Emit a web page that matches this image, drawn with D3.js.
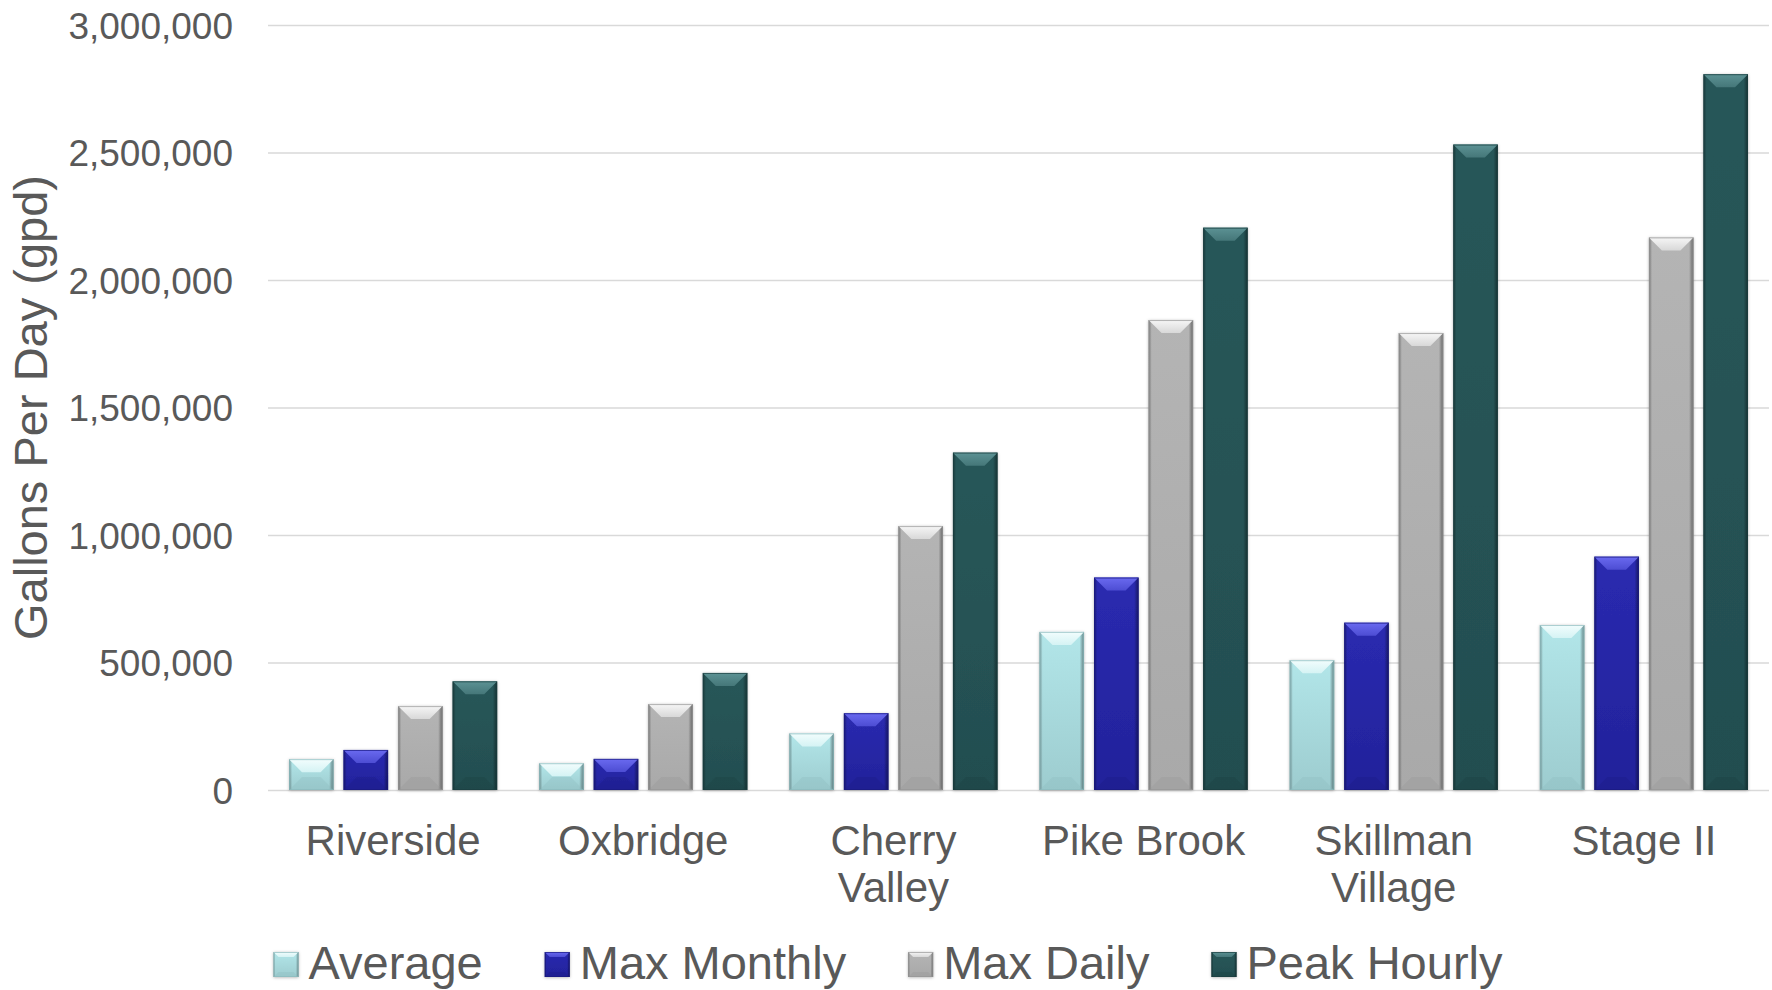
<!DOCTYPE html>
<html>
<head>
<meta charset="utf-8">
<script src="https://cdn.jsdelivr.net/npm/d3@7"></script>
<style>
  html, body { margin: 0; padding: 0; background: #ffffff; }
  svg { display: block; font-family: "Liberation Sans", Arial, sans-serif; }
</style>
</head>
<body>
<svg id="chart" width="1772" height="990"></svg>
<script>
// Water demand per service area, gallons per day
const categories = ["Riverside", "Oxbridge", "Cherry Valley", "Pike Brook", "Skillman Village", "Stage II"];
const seriesNames = ["Average", "Max Monthly", "Max Daily", "Peak Hourly"];
const averageValues    = [121000, 105000, 222000, 620000, 509000, 647000];
const maxMonthlyValues = [157000, 122000, 301000, 833000, 656000, 915000];
const maxDailyValues   = [329000, 337000, 1035000, 1843000, 1792000, 2167000];
const peakHourlyValues = [426000, 459000, 1323000, 2205000, 2531000, 2807000];
const yTickValues = [0, 500000, 1000000, 1500000, 2000000, 2500000, 3000000];
const yAxisTitle = "Gallons Per Day (gpd)";

const seriesValues = [averageValues, maxMonthlyValues, maxDailyValues, peakHourlyValues];

// Bevelled fill palette per series: face top/bottom, bevel highlight, bevel shade
const palette = [
  { top: "#b2e6e9", bottom: "#9dcccf", hi: "#f2fdfd", lo: "#8cbabd" },
  { top: "#2a2ab0", bottom: "#22229a", hi: "#6a6af0", lo: "#1a1a80" },
  { top: "#b4b4b4", bottom: "#a9a9a9", hi: "#f6f6f6", lo: "#959595" },
  { top: "#285759", bottom: "#234e50", hi: "#5c9294", lo: "#1b3e40" }
];

const W = 1772, H = 990;
const plot = { left: 268, right: 1769, top: 25, bottom: 790 };
const textColor = "#595959";

const svg = d3.select("#chart");
const defs = svg.append("defs");

const shadow = defs.append("filter").attr("id", "barShadow")
  .attr("x", "-20%").attr("y", "-20%").attr("width", "140%").attr("height", "140%");
shadow.append("feDropShadow").attr("dx", 0).attr("dy", 0.6)
  .attr("stdDeviation", 1.6).attr("flood-color", "#000").attr("flood-opacity", 0.3);

palette.forEach((p, i) => {
  const face = defs.append("linearGradient").attr("id", "face" + i)
    .attr("x1", 0).attr("y1", 0).attr("x2", 0).attr("y2", 1);
  face.append("stop").attr("offset", "0%").attr("stop-color", p.top);
  face.append("stop").attr("offset", "100%").attr("stop-color", p.bottom);

  const hi = defs.append("linearGradient").attr("id", "hi" + i)
    .attr("x1", 0).attr("y1", 0).attr("x2", 0).attr("y2", 1);
  hi.append("stop").attr("offset", "0%").attr("stop-color", p.hi);
  hi.append("stop").attr("offset", "100%").attr("stop-color", d3.interpolateRgb(p.hi, p.top)(0.45));
});

// Darkened side edges of each bar
const edge = defs.append("linearGradient").attr("id", "edge")
  .attr("x1", 0).attr("y1", 0).attr("x2", 1).attr("y2", 0);
[[0, 0.35], [0.07, 0.0], [0.9, 0.0], [1, 0.45]].forEach(([o, a]) => {
  edge.append("stop").attr("offset", o * 100 + "%").attr("stop-color", "#000").attr("stop-opacity", a);
});

const y = d3.scaleLinear().domain([0, 3000000]).range([plot.bottom, plot.top]);
const x = d3.scaleBand().domain(categories).range([plot.left, plot.right]).padding(0);
const xs = d3.scaleBand().domain(seriesNames).range([0, x.bandwidth()])
  .paddingInner(0.183).paddingOuter(0.385);

// Gridlines and value labels
const yAxis = svg.append("g").attr("transform", `translate(${plot.left},0)`)
  .call(d3.axisLeft(y).tickValues(yTickValues).tickFormat(d3.format(","))
    .tickSize(-(plot.right - plot.left)).tickPadding(35));
yAxis.select(".domain").remove();
yAxis.selectAll(".tick line").attr("stroke", "#d9d9d9").attr("stroke-width", 1.6);
yAxis.selectAll(".tick text").attr("fill", textColor).attr("font-size", 37)
  .attr("font-family", "Liberation Sans, Arial, sans-serif").attr("dy", "0.36em");

// Y axis title
svg.append("text")
  .attr("transform", `translate(47,${(plot.top + plot.bottom) / 2}) rotate(-90)`)
  .attr("text-anchor", "middle").attr("fill", textColor).attr("font-size", 47)
  .text(yAxisTitle);

// Bevelled bar drawing
function bevelBar(g, bx, by, bw, bh, si, bevel) {
  const b = Math.min(bevel, bw / 2, bh / 2);
  const grp = g.append("g");
  grp.append("rect").attr("x", bx).attr("y", by).attr("width", bw).attr("height", bh)
    .attr("fill", `url(#face${si})`).attr("filter", "url(#barShadow)");
  grp.append("rect").attr("x", bx).attr("y", by).attr("width", bw).attr("height", bh)
    .attr("fill", "url(#edge)");
  grp.append("polygon")
    .attr("points", [[bx, by], [bx + bw, by], [bx + bw - b, by + b], [bx + b, by + b]].join(" "))
    .attr("fill", `url(#hi${si})`);
  grp.append("polygon")
    .attr("points", [[bx, by + bh], [bx + bw, by + bh], [bx + bw - b, by + bh - b], [bx + b, by + bh - b]].join(" "))
    .attr("fill", palette[si].lo).attr("opacity", 0.3);
  grp.append("rect").attr("x", bx + 0.5).attr("y", by + 0.5).attr("width", bw - 1).attr("height", bh - 1)
    .attr("fill", "none").attr("stroke", palette[si].lo).attr("stroke-width", 1).attr("stroke-opacity", 0.7);
}

const barsG = svg.append("g");
seriesNames.forEach((name, si) => {
  seriesValues[si].forEach((v, ci) => {
    const bx = x(categories[ci]) + xs(name);
    const by = y(v);
    bevelBar(barsG, bx, by, xs.bandwidth(), y(0) - by, si, 13);
  });
});

// Category labels, wrapped to the band width
const xAxis = svg.append("g").attr("transform", `translate(0,${plot.bottom})`)
  .call(d3.axisBottom(x).tickSize(0).tickPadding(0));
xAxis.select(".domain").remove();
xAxis.selectAll(".tick text").each(function (d) {
  const t = d3.select(this);
  t.text(null).attr("fill", textColor).attr("font-size", 42)
    .attr("font-family", "Liberation Sans, Arial, sans-serif").attr("y", 65).attr("dy", 0);
  const words = d.split(" ");
  const lines = [];
  let line = [];
  const probe = t.append("tspan");
  words.forEach(w => {
    const trial = line.concat(w).join(" ");
    probe.text(trial);
    if (line.length && probe.node().getComputedTextLength() > x.bandwidth() * 0.94) {
      lines.push(line.join(" "));
      line = [w];
    } else {
      line.push(w);
    }
  });
  lines.push(line.join(" "));
  probe.remove();
  lines.forEach((l, i) => {
    t.append("tspan").attr("x", 0).attr("y", 65 + i * 47).text(l);
  });
});

// Legend, centred under the chart
const legend = svg.append("g");
let lx = 0;
seriesNames.forEach((name, si) => {
  const item = legend.append("g").attr("transform", `translate(${lx},0)`);
  bevelBar(item, 0, 952, 25, 25, si, 5);
  const label = item.append("text").attr("x", 35).attr("y", 979)
    .attr("fill", textColor).attr("font-size", 47).text(name);
  lx += 35 + label.node().getComputedTextLength() + 62;
});
const legendWidth = lx - 62;
legend.attr("transform", `translate(${(W - legendWidth) / 2 + 2},0)`);
</script>
</body>
</html>
